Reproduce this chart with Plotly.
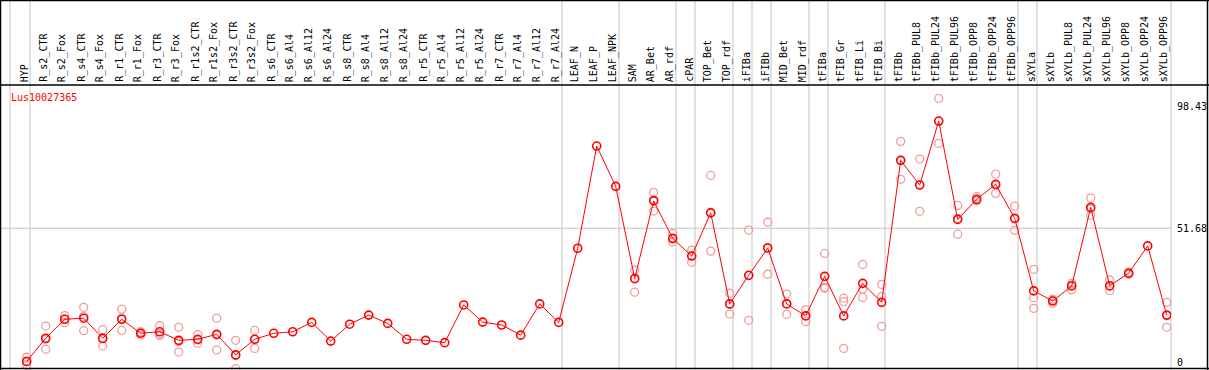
import plotly.graph_objects as go

categories = ["HYP", "R_s2_CTR", "R_s2_Fox", "R_s4_CTR", "R_s4_Fox", "R_r1_CTR", "R_r1_Fox",
              "R_r3_CTR", "R_r3_Fox", "R_r1s2_CTR", "R_r1s2_Fox", "R_r3s2_CTR", "R_r3s2_Fox",
              "R_s6_CTR", "R_s6_Al4", "R_s6_Al12", "R_s6_Al24", "R_s8_CTR", "R_s8_Al4",
              "R_s8_Al12", "R_s8_Al24", "R_r5_CTR", "R_r5_Al4", "R_r5_Al12", "R_r5_Al24",
              "R_r7_CTR", "R_r7_Al4", "R_r7_Al12", "R_r7_Al24", "LEAF_N", "LEAF_P", "LEAF_NPK",
              "SAM", "AR_Bet", "AR_rdf", "cPAR", "TOP_Bet", "TOP_rdf", "iFIBa", "iFIBb",
              "MID_Bet", "MID_rdf", "tFIBa", "tFIB_Gr", "tFIB_Li", "tFIB_Bi", "tFIBb",
              "tFIBb_PUL8", "tFIBb_PUL24", "tFIBb_PUL96", "tFIBb_OPP8", "tFIBb_OPP24",
              "tFIBb_OPP96", "sXYLa", "sXYLb", "sXYLb_PUL8", "sXYLb_PUL24", "sXYLb_PUL96",
              "sXYLb_OPP8", "sXYLb_OPP24", "sXYLb_OPP96"]

mean_values = [0.5, 9.4, 16.7, 17.1, 9.4, 16.7, 11.3, 11.9, 8.6, 9.0, 10.9, 3.0, 9.0,
               11.3, 11.9, 15.5, 8.3, 14.8, 18.3, 15.1, 9.0, 8.6, 7.7, 22.2, 15.6,
               14.5, 10.6, 22.6, 15.5, 44.0, 83.3, 67.8,
               32.4, 62.2, 47.8, 41.0, 57.6, 22.6, 33.6, 44.1, 22.6, 18.0, 33.2, 18.0,
               30.5, 23.2, 77.8, 68.3, 92.9, 55.1, 62.8, 68.6, 55.5, 27.6, 23.7, 29.5,
               59.7, 29.6, 34.4, 44.9, 18.3]

rep1 = [2.1, 14.1, 18.1, 21.3, 12.7, 20.6, 11.9, 14.2, 13.6, 10.8, 17.1, 8.6, 12.4,
        None, None, None, None, None, None, None, None, None, None, None, None,
        None, None, None, None, None, None, None,
        35.6, 65.5, 49.6, 43.3, 72.0, 26.7, 51.0, 54.0, 26.4, 20.3, 42.0, 24.8,
        37.8, 30.1, 85.1, 78.3, 101.6, 60.5, 63.8, 72.5, 60.2, 35.9, 24.4, 30.5,
        63.3, 31.8, 34.8, None, 23.2]
rep2 = [0.4, 9.0, 16.7, 17.7, 9.1, 17.1, 11.4, 11.0, 8.1, 8.7, 10.7, 2.7, 9.1,
        None, None, None, None, None, None, None, None, None, None, None, None,
        None, None, None, None, None, None, None,
        32.1, 62.7, 47.5, 41.1, 57.9, 22.4, 33.5, 44.3, 22.8, 18.0, 29.0, 23.5,
        28.3, 25.4, 77.8, 68.4, 92.8, 55.4, 62.3, 68.2, 55.4, 25.0, 24.0, 29.9,
        59.1, 29.3, 34.2, None, 18.1]
rep3 = [-1.0, 5.2, 15.4, 12.3, 6.4, 12.4, 10.6, 10.5, 4.1, 7.5, 4.9, -2.3, 5.5,
        None, None, None, None, None, None, None, None, None, None, None, None,
        None, None, None, None, None, None, None,
        27.1, 58.3, 46.4, 38.6, 42.9, 18.7, 16.3, 34.0, 18.6, 15.8, 28.6, 5.5,
        25.1, 14.0, 70.5, 58.2, 84.3, 49.4, 62.3, 65.1, 50.9, 20.9, 22.8, 28.0,
        56.7, 27.7, 34.0, None, 13.6]

group_last = ["HYP", "R_r7_Al24", "LEAF_NPK", "AR_rdf", "cPAR", "TOP_rdf", "iFIBa",
              "iFIBb", "MID_rdf", "tFIBa", "tFIB_Bi", "tFIBb_OPP96", "sXYLa"]

y_ticks = [0, 51.68, 98.43]
y_tick_labels = ["0", "51.68", "98.43"]
gene_name = "Lus10027365"

W, H = 1209, 370
PLOT_R = 1171
X0 = 26.7
STEP = 19.0
x_min = -X0 / STEP
x_max = (PLOT_R - X0) / STEP
PX_PER_UNIT = 2.601
Y0PX = 362.7
y_min = -(H - Y0PX) / PX_PER_UNIT
y_max = Y0PX / PX_PER_UNIT

FONT = "DejaVu Sans Mono"
GRID = "#c4c4c4"
xs = list(range(len(categories)))

fig = go.Figure()

rep_x, rep_y = [], []
for reps in (rep1, rep2, rep3):
    for i, v in enumerate(reps):
        if v is not None:
            rep_x.append(i)
            rep_y.append(v)

fig.add_trace(go.Scatter(x=rep_x, y=rep_y, mode="markers",
                         marker=dict(symbol="circle-open", size=8, color="#f09c9c",
                                     line=dict(width=1.3, color="#f09c9c")),
                         hoverinfo="skip", showlegend=False))
fig.add_trace(go.Scatter(x=xs, y=mean_values, mode="lines+markers",
                         line=dict(color="#ff0000", width=1),
                         marker=dict(symbol="circle-open", size=8, color="#ff0000",
                                     line=dict(width=1.6, color="#ff0000")),
                         showlegend=False))

shapes = []
# horizontal grid at the middle tick
shapes.append(dict(type="line", xref="paper", yref="y", x0=0, x1=PLOT_R / W,
                   y0=y_ticks[1], y1=y_ticks[1], line=dict(color=GRID, width=1), layer="below"))
# vertical separators
sep_px = [10] + [X0 + STEP * categories.index(c) + 3.3 for c in group_last] + [PLOT_R]
for p in sep_px:
    shapes.append(dict(type="line", xref="paper", yref="paper", x0=p / W, x1=p / W,
                       y0=0, y1=1, line=dict(color=GRID, width=1), layer="below"))
# frame lines
for (x0, y0, x1, y1) in [(0.5, 0, 0.5, H), (W - 1.5, 0, W - 1.5, H), (0, 0.5, W, 0.5),
                         (0, 85, W, 85), (0, H - 1.5, W, H - 1.5)]:
    shapes.append(dict(type="line", xref="paper", yref="paper",
                       x0=x0 / W, x1=x1 / W, y0=1 - y0 / H, y1=1 - y1 / H,
                       line=dict(color="black", width=1.5)))

annotations = []
for i, c in enumerate(categories):
    px = X0 + STEP * i - 2.5
    annotations.append(dict(x=px / W, y=1 - 84 / H, xref="paper", yref="paper",
                            text=c, textangle=-90, showarrow=False,
                            xanchor="center", yanchor="bottom",
                            font=dict(family=FONT, size=10, color="black")))
annotations.append(dict(x=9 / W, y=1 - 97 / H, xref="paper", yref="paper",
                        text=gene_name, showarrow=False, xanchor="left", yanchor="middle",
                        font=dict(family=FONT, size=10, color="#ff0000")))

fig.update_layout(
    width=W, height=H,
    margin=dict(l=0, r=0, t=0, b=0),
    paper_bgcolor="white", plot_bgcolor="white",
    shapes=shapes, annotations=annotations,
    xaxis=dict(domain=[0, PLOT_R / W], range=[x_min, x_max], showgrid=False,
               zeroline=False, showticklabels=False, ticks="", fixedrange=True),
    yaxis=dict(range=[y_min, y_max], side="right", showgrid=False, zeroline=False,
               tickvals=y_ticks, ticktext=y_tick_labels, ticks="outside", ticklen=3,
               tickcolor="rgba(0,0,0,0)", tickfont=dict(family=FONT, size=10, color="black"),
               showline=False, fixedrange=True),
)

fig.write_html("out.html", config={"displayModeBar": False},
               post_script="document.body.style.margin='0';document.body.style.overflow='hidden';")
